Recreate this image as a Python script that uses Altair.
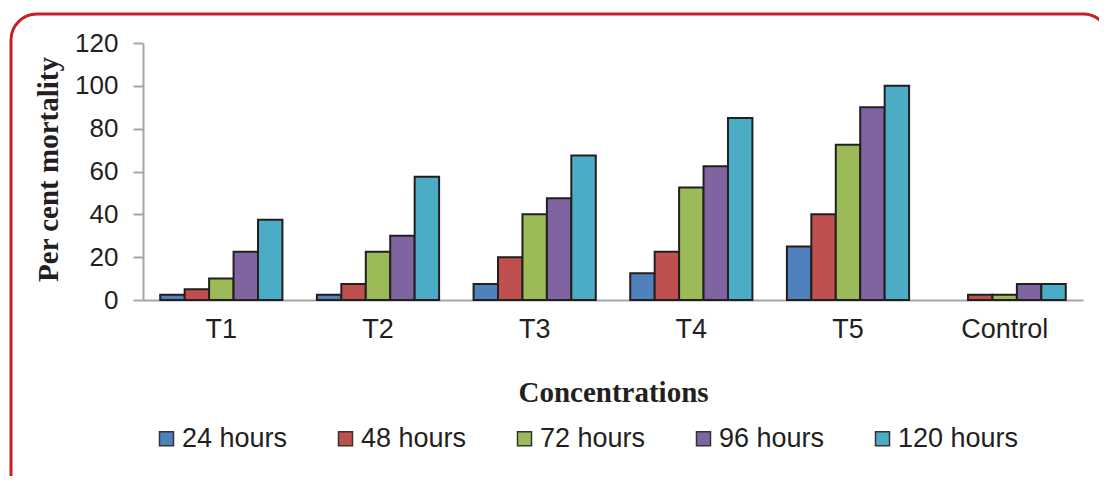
import altair as alt
import pandas as pd

concentrations = ["T1", "T2", "T3", "T4", "T5", "Control"]
series = ["24 hours", "48 hours", "72 hours", "96 hours", "120 hours"]
h24 = [2.5, 2.5, 7.5, 12.5, 25, 0]
h48 = [5, 7.5, 20, 22.5, 40, 2.5]
h72 = [10, 22.5, 40, 52.5, 72.5, 2.5]
h96 = [22.5, 30, 47.5, 62.5, 90, 7.5]
h120 = [37.5, 57.5, 67.5, 85, 100, 7.5]
colors = ["#4F81BD", "#C0504D", "#9BBB59", "#8064A2", "#4BACC6"]

rows = []
for name, vals in zip(series, [h24, h48, h72, h96, h120]):
    for c, v in zip(concentrations, vals):
        rows.append({"Concentration": c, "Time": name, "Mortality": v})
df = pd.DataFrame(rows)

W, H = 940, 257

bars = alt.Chart(df).transform_filter("datum.Mortality > 0").mark_bar(
    stroke="#231F20", strokeWidth=2
).encode(
    x=alt.X("Concentration:N", sort=concentrations,
            scale=alt.Scale(domain=concentrations, paddingInner=0.22, paddingOuter=0.11),
            axis=alt.Axis(title="Concentrations", labelAngle=0, ticks=False,
                          labelPadding=16, titlePadding=36,
                          labelFont="Liberation Sans", labelFontSize=27,
                          labelColor="#231F20",
                          titleFont="Liberation Serif", titleFontSize=29,
                          titleFontWeight="bold", titleColor="#231F20",
                          domainColor="#A6A6A6", domainWidth=2)),
    xOffset=alt.XOffset("Time:N", sort=series,
                        scale=alt.Scale(domain=series, paddingInner=0, paddingOuter=0)),
    y=alt.Y("Mortality:Q", scale=alt.Scale(domain=[0, 120], nice=False),
            axis=alt.Axis(title="Per cent mortality", values=[0, 20, 40, 60, 80, 100, 120],
                          grid=False, tickSize=10, labelPadding=15, titlePadding=11,
                          labelFont="Liberation Sans", labelFontSize=26,
                          labelColor="#231F20",
                          titleFont="Liberation Serif", titleFontSize=29,
                          titleFontWeight="bold", titleColor="#231F20",
                          titleY=126,
                          domainColor="#A6A6A6", domainWidth=2,
                          tickColor="#A6A6A6", tickWidth=2)),
    color=alt.Color("Time:N", sort=series,
                    scale=alt.Scale(domain=series, range=colors),
                    legend=alt.Legend(title=None, orient="none", direction="horizontal",
                                      columns=5, legendX=10, legendY=382,
                                      symbolType="square", symbolSize=196,
                                      symbolStrokeColor="#333333", symbolStrokeWidth=1.5,
                                      labelFont="Liberation Sans", labelFontSize=27,
                                      labelColor="#231F20", labelOffset=2,
                                      columnPadding=44, labelLimit=300)),
)

frame = alt.Chart(pd.DataFrame({"a": [0]})).mark_rect(
    fill=None, stroke="#C8202A", strokeWidth=3, cornerRadius=26
).encode(
    x=alt.value(-132), x2=alt.value(966), y=alt.value(-29), y2=alt.value(460)
)

chart = alt.layer(frame, bars).properties(
    width=W, height=H,
    autosize=alt.AutoSizeParams(type="none"),
    padding={"left": 135, "top": 35, "right": 16, "bottom": 176},
).configure_view(stroke=None)

chart.save("out.html", embed_options={"renderer": "svg", "actions": False})
